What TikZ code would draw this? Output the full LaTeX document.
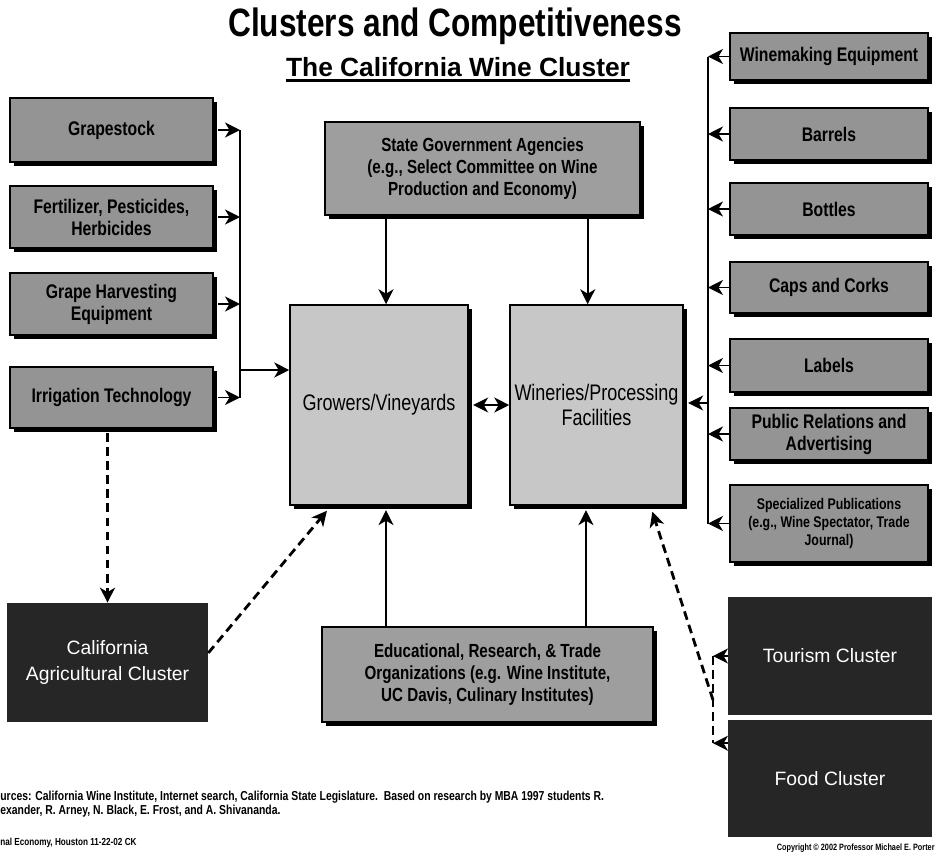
\documentclass[tikz,border=0pt]{standalone}
\usepackage{fontspec}
\setmainfont{Liberation Sans}
\newfontfamily\narrowsf[FakeStretch=0.8]{Liberation Sans}
\usetikzlibrary{arrows.meta,shadows,calc}

\begin{document}
\begin{tikzpicture}[x=0.02cm, y=-0.02cm,
    >={Stealth[length=8.5pt,width=8.5pt,inset=2.5pt]},
    bloc/.style={draw=black, line width=0.9pt, fill=black!42,
        font=\narrowsf\bfseries\fontsize{11.2}{12.5}\selectfont,
        align=center, inner sep=2pt,
        drop shadow={fill=black, opacity=1, shadow xshift=2.5pt, shadow yshift=-2.5pt}},
    rbloc/.style={bloc, minimum width=3.96cm},
    lbloc/.style={bloc, minimum width=4.06cm},
    nucli/.style={bloc, fill=black!22,
        font=\narrowsf\fontsize{12.8}{14}\selectfont},
    agencia/.style={bloc, fill=black!38,
        font=\narrowsf\bfseries\fontsize{10.8}{12.3}\selectfont},
    fosc/.style={fill=black!85, text=white, align=center, inner sep=0pt,
        font=\fontsize{11}{15}\selectfont},
    fletxa/.style={->, line width=1.1pt},
    puntejat/.style={line width=1.6pt, dash pattern=on 5pt off 3pt},
    ]
    \path[use as bounding box, fill=white] (0,0) rectangle (937,856);

    \node[font=\narrowsf\bfseries\fontsize{22.5}{26}\selectfont] (titol) at (455,26) {Clusters and Competitiveness};
    \node[font=\bfseries\fontsize{15}{18}\selectfont, inner sep=0pt] (subtitol) at (458,67) {The California Wine Cluster};
    \draw[line width=1.4pt] ([yshift=-2pt]subtitol.south west) -- ([yshift=-2pt]subtitol.south east);

    \node[lbloc, minimum height=1.28cm] (grape) at (111.5,130) {Grapestock};
    \node[lbloc, minimum height=1.24cm] (fert) at (111.5,217) {Fertilizer, Pesticides,\\Herbicides};
    \node[lbloc, minimum height=1.24cm] (harv) at (111.5,304) {Grape Harvesting\\Equipment};
    \node[lbloc, minimum height=1.22cm] (irri) at (111.5,397.5) {Irrigation Technology};

    \node[rbloc, minimum height=0.94cm] (wme) at (829,56.5) {Winemaking Equipment};
    \node[rbloc, minimum height=1.04cm] (barr) at (829,134) {Barrels};
    \node[rbloc, minimum height=1.04cm] (bott) at (829,209) {Bottles};
    \node[rbloc, minimum height=1.02cm] (caps) at (829,287.5) {Caps and Corks};
    \node[rbloc, minimum height=1.06cm] (labl) at (829,365.5) {Labels};
    \node[rbloc, minimum height=1.04cm] (pubr) at (829,434) {Public Relations and\\Advertising};
    \node[rbloc, minimum height=1.54cm, font=\narrowsf\bfseries\fontsize{8.8}{10}\selectfont] (spec) at (829,523.5) {Specialized Publications\\(e.g., Wine Spectator, Trade\\Journal)};

    \node[agencia, minimum width=6.3cm, minimum height=1.86cm] (state) at (482.5,168.5) {State Government Agencies\\(e.g., Select Committee on Wine\\Production and Economy)};
    \node[nucli, minimum width=3.56cm, minimum height=4cm] (grow) at (379,405) {Growers/Vineyards};
    \node[nucli, minimum width=3.46cm, minimum height=4cm] (win) at (596.5,405) {Wineries/Processing\\Facilities};
    \node[agencia, minimum width=6.62cm, minimum height=1.9cm] (edu) at (487.5,674.5) {Educational, Research, \& Trade\\Organizations (e.g. Wine Institute,\\UC Davis, Culinary Institutes)};

    \node[fosc, minimum width=4.02cm, minimum height=2.38cm] (ag) at (107.5,662.5) {California\\Agricultural Cluster};
    \node[fosc, minimum width=4.08cm, minimum height=2.36cm] (tour) at (830,656) {Tourism Cluster};
    \node[fosc, minimum width=4.08cm, minimum height=2.34cm] (food) at (830,778.5) {Food Cluster};

    \coordinate (lbus) at (240,130);
    \coordinate (lin) at (240,370);
    \coordinate (rbus) at (708,56);
    \coordinate (rin) at (708,403);
    \coordinate (djoin) at (713,700);
    \coordinate (fin) at ($(food.north west)!0.2!(food.south west)$);

    \foreach \n in {grape,fert,harv,irri}
        \draw[fletxa] ([xshift=2.5pt]\n.east) -- (\n.east -| lbus);
    \draw[line width=1.1pt] (grape.east -| lbus) -- (irri.east -| lbus);
    \draw[fletxa] (lin) -- (lin -| grow.west);

    \foreach \n in {wme,barr,bott,caps,labl,pubr,spec}
        \draw[fletxa] (\n.west) -- (\n.west -| rbus);
    \draw[line width=1.1pt] (wme.west -| rbus) -- (spec.west -| rbus);
    \draw[fletxa] (rin) -- ([xshift=2.5pt]rin -| win.east);

    \draw[fletxa] ([xshift=4pt]grow.north |- state.south) -- ([xshift=4pt]grow.north);
    \draw[fletxa] ([xshift=-5pt]win.north |- state.south) -- ([xshift=-5pt]win.north);
    \draw[fletxa] ([xshift=4pt]grow.south |- edu.north) -- ([xshift=4pt,yshift=-2.5pt]grow.south);
    \draw[fletxa] ([xshift=-6pt]win.south |- edu.north) -- ([xshift=-6pt,yshift=-2.5pt]win.south);
    \draw[fletxa, <->] ([xshift=2.5pt]grow.east) -- (win.west);

    \draw[fletxa, puntejat] ([yshift=-2.5pt]ag.north |- irri.south) -- (ag.north);
    \draw[fletxa, puntejat] ($(ag.north east)!0.42!(ag.south east)$) -- ($(grow.south west)!0.21!(grow.south east)+(0,5)$);
    \draw[fletxa] (tour.west) -- (tour.west -| djoin);
    \draw[fletxa] (fin) -- (fin -| djoin);
    \draw[puntejat] (tour.west -| djoin) -- (fin -| djoin);
    \draw[fletxa, puntejat] (djoin) -- ($(win.south west)!0.82!(win.south east)+(0,6)$);

    \node[anchor=west, align=left, inner sep=0pt, font=\narrowsf\bfseries\fontsize{7.4}{8}\selectfont] (fonts) at (0,804) {urces: California Wine Institute, Internet search, California State Legislature.\ \ Based on research by MBA 1997 students R.\\exander, R. Arney, N. Black, E. Frost, and A. Shivananda.};
    \node[anchor=west, inner sep=0pt, font=\narrowsf\bfseries\fontsize{5.8}{6}\selectfont] (peu) at (0,843) {nal Economy, Houston 11-22-02 CK};
    \node[anchor=east, inner sep=0pt, font=\narrowsf\bfseries\fontsize{5.2}{6}\selectfont] (copy) at (935,848) {Copyright © 2002 Professor Michael E. Porter};
\end{tikzpicture}
\end{document}
